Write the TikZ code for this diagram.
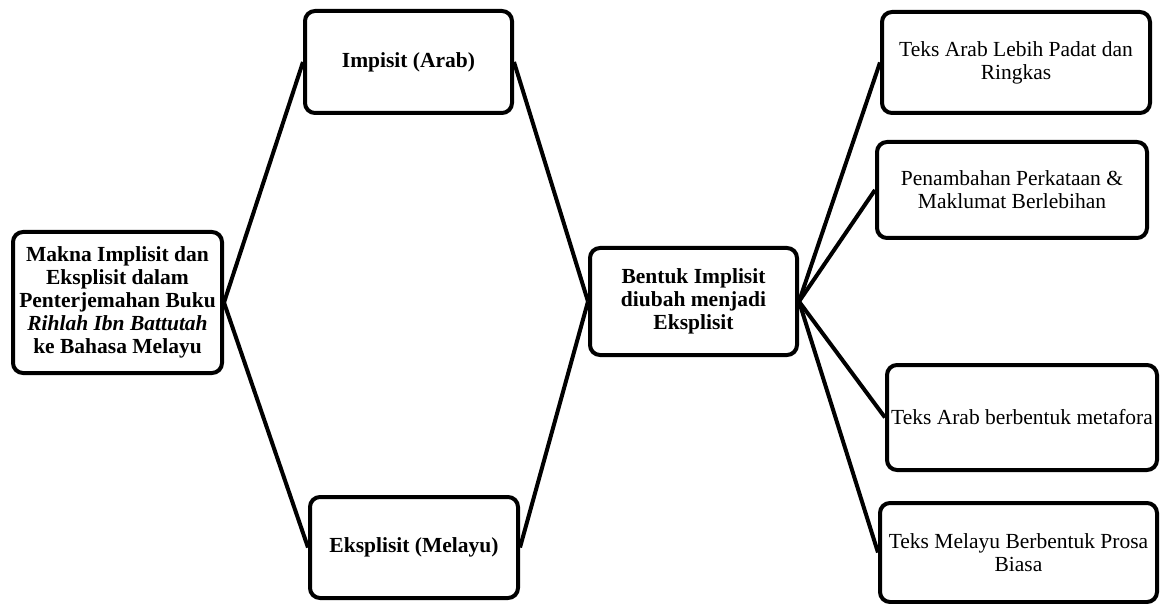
\documentclass[tikz,border=0pt]{standalone}
\usepackage{fontspec}
\setmainfont{Liberation Serif}
\usetikzlibrary{positioning}

\begin{document}
\begin{tikzpicture}[
    x=1pt, y=-1pt,
    box/.style={draw, line width=4pt, rounded corners=10pt, align=center, inner sep=0pt, font=\fontsize{21.5}{23}\selectfont},
    boldbox/.style={box, font=\fontsize{21.5}{23}\selectfont\bfseries},
    link/.style={line width=4pt}
]
\useasboundingbox (0,0) rectangle (1160,604);
\node[boldbox, minimum width=209pt, minimum height=141pt] (makna) at (117.5,302.5) {Makna Implisit dan\\Eksplisit dalam\\Penterjemahan Buku\\\textit{Rihlah Ibn Battutah}\\ke Bahasa Melayu};
\node[boldbox, minimum width=207pt, minimum height=102pt] (arab) at (408.5,62) {Impisit (Arab)};
\node[boldbox, minimum width=208pt, minimum height=101pt] (melayu) at (414,547.5) {Eksplisit (Melayu)};
\node[boldbox, minimum width=207pt, minimum height=107pt] (bentuk) at (693.5,301.5) {Bentuk Implisit\\diubah menjadi\\Eksplisit};
\node[box, minimum width=268pt, minimum height=101pt] (padat) at (1016,62.5) {Teks Arab Lebih Padat dan\\Ringkas};
\node[box, minimum width=270pt, minimum height=96pt] (tambah) at (1012,190) {Penambahan Perkataan \&\\Maklumat Berlebihan};
\node[box, minimum width=270pt, minimum height=105pt] (metafora) at (1022,417.5) {Teks Arab berbentuk metafora};
\node[box, minimum width=277pt, minimum height=99pt] (prosa) at (1018.5,552.5) {Teks Melayu Berbentuk Prosa\\Biasa};
\draw[link] (makna.east) -- (arab.west);
\draw[link] (makna.east) -- (melayu.west);
\draw[link] (arab.east) -- (bentuk.west);
\draw[link] (melayu.east) -- (bentuk.west);
\draw[link] (bentuk.east) -- (padat.west);
\draw[link] (bentuk.east) -- (tambah.west);
\draw[link] (bentuk.east) -- (metafora.west);
\draw[link] (bentuk.east) -- (prosa.west);
\end{tikzpicture}
\end{document}
